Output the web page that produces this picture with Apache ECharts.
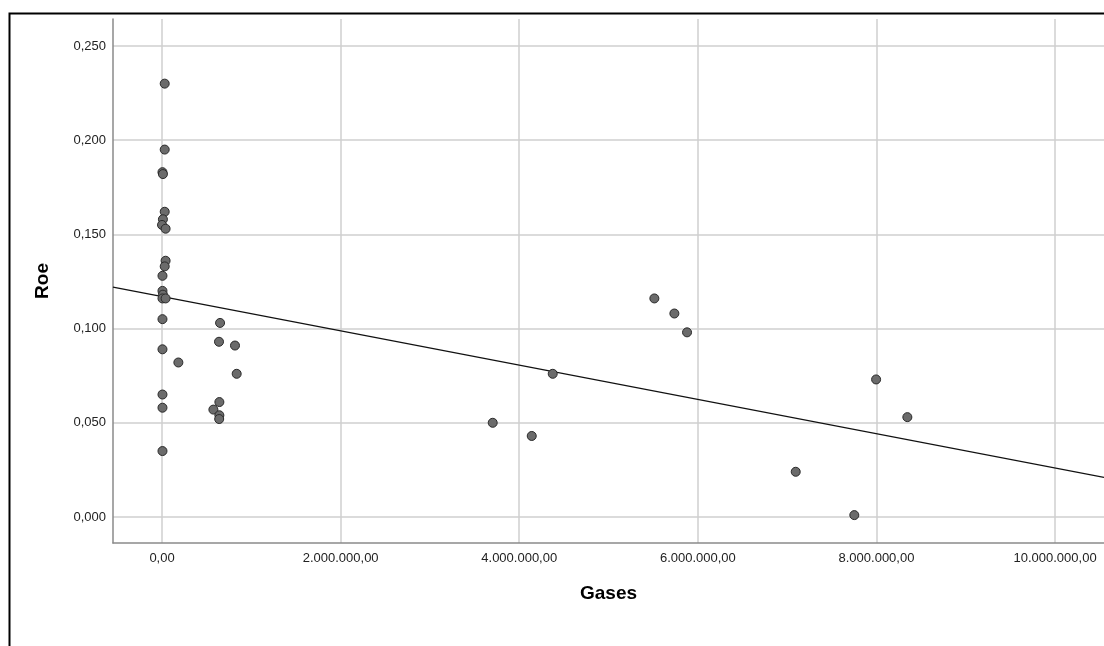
<!DOCTYPE html>
<html>
<head>
<meta charset="utf-8">
<script src="https://cdn.jsdelivr.net/npm/echarts@6/dist/echarts.min.js"></script>
<style>
html,body{margin:0;padding:0;background:#fff;}
#chart{width:1104px;height:646px;}
</style>
</head>
<body>
<div id="chart"></div>
<script>
// Data (Gases vs Roe)
const gases = [30000, 30000, 5000, 10000, 30000, 10000, 0, 40000, 40000, 30000,
  5000, 5000, 10000, 5000, 40000, 5000, 650000, 5000, 638000, 817000,
  183000, 836000, 5000, 5000, 642000, 575000, 642000, 640000, 5000,
  5513000, 5737000, 5879000, 4375000, 3703000, 4140000, 7996000, 8346000, 7096000, 7752000];
const roe = [0.230, 0.195, 0.183, 0.182, 0.162, 0.158, 0.155, 0.153, 0.136, 0.133,
  0.128, 0.120, 0.118, 0.116, 0.116, 0.105, 0.103, 0.089, 0.093, 0.091,
  0.082, 0.076, 0.065, 0.058, 0.061, 0.057, 0.054, 0.052, 0.035,
  0.116, 0.108, 0.098, 0.076, 0.050, 0.043, 0.073, 0.053, 0.024, 0.001];
// Fit line
const fitIntercept = 0.117;
const fitSlope = -9.1e-9;
// Tick labels
const xTicks = [0, 2000000, 4000000, 6000000, 8000000, 10000000];
const yTicks = [0, 0.05, 0.10, 0.15, 0.20, 0.25];
const xRange = [-549000, 10548000];
const yRange = [-0.0138, 0.2643];

function fmtX(v){
  const s = Math.round(v).toString().replace(/\B(?=(\d{3})+(?!\d))/g, '.');
  return s + ',00';
}
function fmtY(v){ return v.toFixed(3).replace('.', ','); }

const points = gases.map((g,i)=>[g, roe[i]]);
const fitLine = xRange.map(x=>[x, fitIntercept + fitSlope*x]);

const chart = echarts.init(document.getElementById('chart'));
const labelFont = {fontFamily:'Liberation Sans, Arial, sans-serif', fontSize:13, color:'#222'};
const nameFont = {fontFamily:'Liberation Sans, Arial, sans-serif', fontSize:19, fontWeight:'bold', color:'#000'};
chart.setOption({
  animation:false,
  backgroundColor:'#fff',
  graphic:[{
    type:'rect', left:7, top:11, z:100,
    shape:{x:0,y:0,width:1200,height:700},
    style:{fill:'none', stroke:'#000', lineWidth:2}
  }],
  grid:{left:113, right:0, top:19, bottom:103, containLabel:false},
  xAxis:{
    type:'value', min:xRange[0], max:xRange[1],
    name:'Gases', nameLocation:'middle', nameGap:41,
    nameTextStyle:nameFont,
    axisLine:{show:true, onZero:false, lineStyle:{color:'#8a8a8a', width:1.5}},
    axisTick:{show:false, customValues:xTicks},
    axisLabel:Object.assign({customValues:xTicks, formatter:fmtX, margin:9}, labelFont),
    splitLine:{show:true, lineStyle:{color:'#cfcfcf', width:1.5}}
  },
  yAxis:{
    type:'value', min:yRange[0], max:yRange[1],
    name:'Roe', nameLocation:'middle', nameGap:61, nameRotate:90,
    nameTextStyle:nameFont,
    axisLine:{show:true, onZero:false, lineStyle:{color:'#8a8a8a', width:1.5}},
    axisTick:{show:false, customValues:yTicks},
    axisLabel:Object.assign({customValues:yTicks, formatter:fmtY, margin:7}, labelFont),
    splitLine:{show:true, lineStyle:{color:'#cfcfcf', width:1.5}}
  },
  series:[
    {
      type:'line', data:fitLine, symbol:'none', silent:true,
      lineStyle:{color:'#111', width:1.2}, z:3
    },
    {
      type:'scatter', data:points, symbolSize:9,
      itemStyle:{color:'#6b6b6b', borderColor:'#2a2a2a', borderWidth:1, opacity:1}, z:4
    }
  ]
});
</script>
</body>
</html>
